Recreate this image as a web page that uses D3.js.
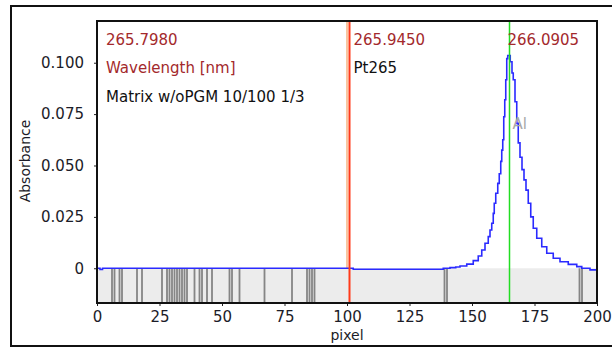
<!DOCTYPE html>
<html>
<head>
<meta charset="utf-8">
<script src="https://cdn.jsdelivr.net/npm/d3@7"></script>
<style>
  body { margin: 0; background: #fff; }
  svg { display: block; font-family: "DejaVu Sans", sans-serif; }
</style>
</head>
<body>
<svg id="chart" width="612" height="347"></svg>
<script>
// spectrum (pixel, absorbance)
const pixels = [0, 1.2, 2.2, 102.5, 138.5, 141.2, 143.5, 145.2, 147.9, 150.5, 152.5, 153.9, 155.2,
  156.5, 157.2, 157.9, 158.5, 158.9, 159.5, 160.3, 160.9, 161.5, 161.9, 162.3, 162.7, 163.1,
  163.5, 163.9, 164.3, 165.3, 166.0, 166.5, 167.2, 167.9, 168.5, 169.2, 170.0, 170.8, 171.6, 172.5,
  173.5, 174.5, 175.9, 177.9, 179.9, 182.5, 185.2, 188.5, 191.9, 193.9, 197.2, 200];
const absorbance = [0, -0.0006, 0, -0.0005, 0, 0.0003, 0.0006, 0.0011, 0.002, 0.0037, 0.006, 0.0089, 0.0122,
  0.0154, 0.0186, 0.0219, 0.0267, 0.0316, 0.0365, 0.0413, 0.046, 0.052, 0.0575, 0.0625, 0.0737, 0.082,
  0.0917, 0.102, 0.1035, 0.1005, 0.095, 0.0917, 0.081, 0.0705, 0.061, 0.054, 0.048, 0.043, 0.038, 0.0316,
  0.025, 0.0195, 0.0146, 0.0105, 0.0073, 0.0049, 0.0032, 0.0019, 0.0008, 0, -0.0008, -0.0008];

// masked pixels (grey bars in the band under zero)
const maskedPixels = [6, 7, 9, 10, 16, 18, 26, 28, 29, 30, 31, 32, 33, 34, 35, 36, 39, 41, 42, 44, 46,
  53, 54, 57, 67, 78, 84, 85, 86, 87, 139, 140, 193, 194];

const xTicks = [0, 25, 50, 75, 100, 125, 150, 175, 200];
const yTicks = [0, 0.025, 0.05, 0.075, 0.1];

const leftLabels = ["265.7980", "Wavelength [nm]", "Matrix w/oPGM 10/100 1/3"];
const centerLabels = ["265.9450", "Pt265"];
const rightLabel = "266.0905";
const peakLabel = "Al";
const centerPixel = 101;
const peakPixel = 165;

// dimensions
const plot = { left: 97, right: 597, top: 21, bottom: 303 };
const darkRed = "#a3292c";

const svg = d3.select("#chart");

const x = d3.scaleLinear().domain([0, 200]).range([plot.left, plot.right]);
const y = d3.scaleLinear().domain([-0.0169, 0.1203]).range([plot.bottom, plot.top]);

// outer frame
svg.append("rect")
  .attr("x", 11).attr("y", 6).attr("width", 620).attr("height", 340)
  .attr("fill", "none").attr("stroke", "#111").attr("stroke-width", 2);

// grey band below zero
svg.append("rect")
  .attr("x", x(0)).attr("y", y(0))
  .attr("width", x(200) - x(0)).attr("height", plot.bottom - y(0))
  .attr("fill", "#ececec");

svg.append("g").selectAll("line").data(maskedPixels).join("line")
  .attr("x1", d => x(d)).attr("x2", d => x(d))
  .attr("y1", y(0)).attr("y2", plot.bottom)
  .attr("stroke", "#858585").attr("stroke-width", 1.8);

// peach shade left of the centre line
svg.append("rect")
  .attr("x", x(centerPixel) - 3.5).attr("y", plot.top)
  .attr("width", 2.2).attr("height", y(0) - plot.top)
  .attr("fill", "#f9c6a0");

// spectrum
const line = d3.line()
  .x((d, i) => x(pixels[i]))
  .y(d => y(d))
  .curve(d3.curveStepAfter);

svg.append("path")
  .datum(absorbance)
  .attr("d", line)
  .attr("fill", "none")
  .attr("stroke", "#2a2aff")
  .attr("stroke-width", 1.6);

// marker lines
svg.append("line")
  .attr("x1", x(centerPixel)).attr("x2", x(centerPixel))
  .attr("y1", plot.top).attr("y2", plot.bottom)
  .attr("stroke", "#ff3a1a").attr("stroke-width", 2);

svg.append("line")
  .attr("x1", x(peakPixel)).attr("x2", x(peakPixel))
  .attr("y1", plot.top).attr("y2", plot.bottom)
  .attr("stroke", "#22dd22").attr("stroke-width", 1.5);

// axes
const yAxis = d3.axisLeft(y).tickValues(yTicks).tickSize(3).tickPadding(10)
  .tickFormat(d => d === 0 ? "0" : d3.format(".3f")(d));
const yg = svg.append("g").attr("transform", `translate(${plot.left},0)`).call(yAxis);

const xAxis = d3.axisBottom(x).tickValues(xTicks).tickSize(3).tickPadding(5);
const xg = svg.append("g").attr("transform", `translate(0,${plot.bottom})`).call(xAxis);

[yg, xg].forEach(g => {
  g.select(".domain").remove();
  g.selectAll("text").attr("font-size", 15).attr("font-family", "DejaVu Sans, sans-serif").attr("fill", "#1c1c28");
  g.selectAll("line").attr("stroke", "#222");
});

// plot frame
svg.append("rect")
  .attr("x", plot.left).attr("y", plot.top)
  .attr("width", plot.right - plot.left).attr("height", plot.bottom - plot.top)
  .attr("fill", "none").attr("stroke", "#111").attr("stroke-width", 2);

// axis titles
svg.append("text")
  .attr("transform", `translate(30,161) rotate(-90)`)
  .attr("text-anchor", "middle")
  .attr("font-size", 14)
  .attr("fill", "#1c1c28")
  .text("Absorbance");

svg.append("text")
  .attr("x", 347).attr("y", 340)
  .attr("text-anchor", "middle")
  .attr("font-size", 14)
  .attr("fill", "#1c1c28")
  .text("pixel");

// annotations
const rowY = [45, 72.7, 101.7];
svg.append("g").selectAll("text").data(leftLabels).join("text")
  .attr("x", x(0) + 9).attr("y", (d, i) => rowY[i])
  .attr("font-size", 15)
  .attr("fill", (d, i) => i < 2 ? darkRed : "#111")
  .text(d => d);

svg.append("g").selectAll("text").data(centerLabels).join("text")
  .attr("x", x(centerPixel) + 4).attr("y", (d, i) => rowY[i])
  .attr("font-size", 15)
  .attr("fill", (d, i) => i < 1 ? darkRed : "#111")
  .text(d => d);

svg.append("text")
  .attr("x", x(peakPixel) - 2).attr("y", rowY[0])
  .attr("font-size", 15)
  .attr("fill", darkRed)
  .text(rightLabel);

svg.append("text")
  .attr("x", x(peakPixel) + 3).attr("y", 129.3)
  .attr("font-size", 15)
  .attr("fill", "#a8a8a8")
  .text(peakLabel);
</script>
</body>
</html>
